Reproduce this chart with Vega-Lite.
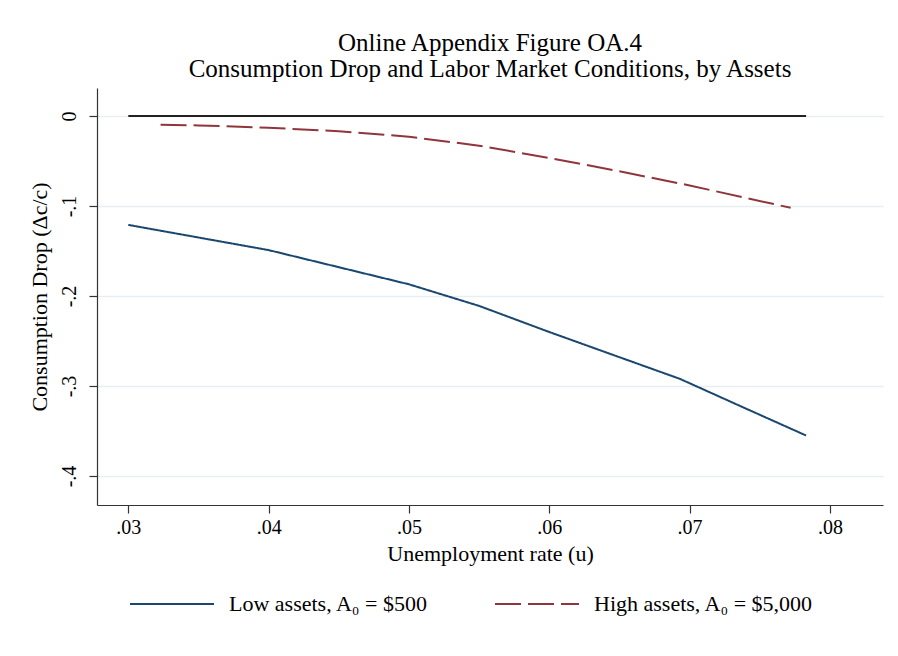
{
  "$schema": "https://vega.github.io/schema/vega-lite/v6.json",
  "width": 786,
  "height": 417,
  "autosize": {"type": "none"},
  "padding": {"left": 97, "top": 88, "right": 15, "bottom": 151},
  "background": "white",
  "title": {
    "text": ["Online Appendix Figure OA.4", "Consumption Drop and Labor Market Conditions, by Assets"],
    "font": "Liberation Serif",
    "fontSize": 25,
    "fontWeight": "normal",
    "color": "black",
    "lineHeight": 26,
    "anchor": "middle",
    "offset": 6
  },
  "config": {
    "view": {"stroke": null},
    "axis": {
      "labelFont": "Liberation Serif",
      "titleFont": "Liberation Serif",
      "labelColor": "black",
      "titleColor": "black",
      "titleFontWeight": "normal",
      "domainColor": "#333333",
      "tickColor": "#333333",
      "domainWidth": 1.2,
      "tickWidth": 1.2,
      "tickSize": 8
    }
  },
  "layer": [
    {
      "data": {"values": [{"u": 0.03, "v": 0}, {"u": 0.0783, "v": 0}]},
      "mark": {"type": "line", "color": "#222222", "strokeWidth": 2},
      "encoding": {
        "x": {"field": "u", "type": "quantitative", "scale": {"domain": [0.02777, 0.08378], "nice": false, "zero": false}},
        "y": {"field": "v", "type": "quantitative", "scale": {"domain": [-0.4322, 0.0311], "nice": false, "zero": false}}
      }
    },
    {
      "data": {"values": [
        {"series": "Low assets, A₀ = $500", "u": 0.0300, "v": -0.121},
        {"series": "Low assets, A₀ = $500", "u": 0.0350, "v": -0.135},
        {"series": "Low assets, A₀ = $500", "u": 0.0400, "v": -0.149},
        {"series": "Low assets, A₀ = $500", "u": 0.0450, "v": -0.168},
        {"series": "Low assets, A₀ = $500", "u": 0.0500, "v": -0.187},
        {"series": "Low assets, A₀ = $500", "u": 0.0550, "v": -0.211},
        {"series": "Low assets, A₀ = $500", "u": 0.0600, "v": -0.240},
        {"series": "Low assets, A₀ = $500", "u": 0.0650, "v": -0.268},
        {"series": "Low assets, A₀ = $500", "u": 0.0693, "v": -0.292},
        {"series": "Low assets, A₀ = $500", "u": 0.0740, "v": -0.325},
        {"series": "Low assets, A₀ = $500", "u": 0.0783, "v": -0.355},
        {"series": "High assets, A₀ = $5,000", "u": 0.0323, "v": -0.0097},
        {"series": "High assets, A₀ = $5,000", "u": 0.0350, "v": -0.0105},
        {"series": "High assets, A₀ = $5,000", "u": 0.0400, "v": -0.0130},
        {"series": "High assets, A₀ = $5,000", "u": 0.0450, "v": -0.0170},
        {"series": "High assets, A₀ = $5,000", "u": 0.0500, "v": -0.0230},
        {"series": "High assets, A₀ = $5,000", "u": 0.0550, "v": -0.0330},
        {"series": "High assets, A₀ = $5,000", "u": 0.0600, "v": -0.0466},
        {"series": "High assets, A₀ = $5,000", "u": 0.0650, "v": -0.0614},
        {"series": "High assets, A₀ = $5,000", "u": 0.0700, "v": -0.0772},
        {"series": "High assets, A₀ = $5,000", "u": 0.0772, "v": -0.1020}
      ]},
      "mark": {"type": "line", "strokeWidth": 2},
      "encoding": {
        "x": {
          "field": "u", "type": "quantitative",
          "scale": {"domain": [0.02777, 0.08378], "nice": false, "zero": false},
          "axis": {
            "values": [0.03, 0.04, 0.05, 0.06, 0.07, 0.08],
            "labelExpr": "'.0' + round(datum.value * 100)",
            "labelFont": "Liberation Serif",
            "labelFontSize": 20,
            "labelPadding": 4,
            "grid": false,
            "title": "Unemployment rate (u)",
            "titleFont": "Liberation Serif",
            "titleFontSize": 22,
            "titlePadding": 6
          }
        },
        "y": {
          "field": "v", "type": "quantitative",
          "scale": {"domain": [-0.4322, 0.0311], "nice": false, "zero": false},
          "axis": {
            "values": [0, -0.1, -0.2, -0.3, -0.4],
            "labelExpr": "datum.value == 0 ? '0' : '-.' + round(-datum.value * 10)",
            "labelFont": "Liberation Serif",
            "labelAngle": -90,
            "labelAlign": "center",
            "labelBaseline": "bottom",
            "labelFontSize": 20,
            "labelPadding": 10,
            "grid": true,
            "gridColor": "#e6eef1",
            "gridWidth": 1.5,
            "title": "Consumption Drop (Δc/c)",
            "titleFont": "Liberation Serif",
            "titleFontSize": 22,
            "titlePadding": 8
          }
        },
        "color": {
          "field": "series", "type": "nominal", "title": null,
          "scale": {"domain": ["Low assets, A₀ = $500", "High assets, A₀ = $5,000"], "range": ["#1a476f", "#90353b"]},
          "legend": {
            "orient": "none",
            "legendX": 32,
            "legendY": 473,
            "direction": "horizontal",
            "symbolType": "stroke",
            "symbolSize": 7056,
            "symbolStrokeWidth": 2,
            "labelFont": "Liberation Serif",
            "labelFontSize": 22,
            "labelColor": "black",
            "labelOffset": 14,
            "labelLimit": 400,
            "columnPadding": 62
          }
        },
        "strokeDash": {
          "field": "series", "type": "nominal", "title": null,
          "scale": {"domain": ["Low assets, A₀ = $500", "High assets, A₀ = $5,000"], "range": [[1, 0], [26, 7]]}
        }
      }
    }
  ]
}
